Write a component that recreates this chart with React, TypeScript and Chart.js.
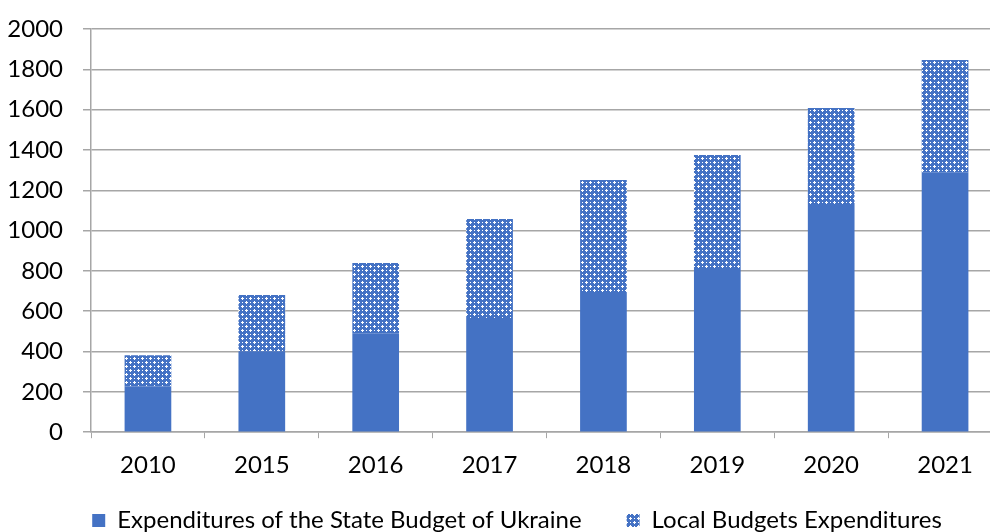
import React, { useEffect, useRef } from "react";
import { Chart, registerables } from "chart.js";
Chart.register(...registerables);

const years = ["2010", "2015", "2016", "2017", "2018", "2019", "2020", "2021"];
const stateBudget = [228, 402, 491, 566, 690, 814, 1127, 1290];
const localBudgets = [154, 278, 348, 491, 561, 561, 481, 556];
const yTicks = [0, 200, 400, 600, 800, 1000, 1200, 1400, 1600, 1800, 2000];

const BLUE = "#4472C4";
const FONT = "Lato";
const LEGEND_PAD = 45;
const LEGEND_FONT = 24;

function makePattern(ctx: CanvasRenderingContext2D): CanvasPattern | string {
  const c = document.createElement("canvas");
  c.width = 8;
  c.height = 8;
  const g = c.getContext("2d");
  if (!g) return BLUE;
  g.fillStyle = BLUE;
  g.fillRect(0, 0, 8, 8);
  g.fillStyle = "#ffffff";
  const white: [number, number][] = [
    [2, 1], [1, 2], [2, 2], [3, 2], [2, 3],
    [6, 5], [5, 6], [6, 6], [7, 6], [6, 7],
    [6, 2], [2, 6],
  ];
  white.forEach(([x, y]) => g.fillRect(x, y, 1, 1));
  return ctx.createPattern(c, "repeat") || BLUE;
}

const legendShift = {
  id: "legendShift",
  afterLayout(chart: any) {
    const lg = chart.legend;
    if (!lg) return;
    const h = lg.height;
    lg.left += 16;
    lg.right += 16;
    lg.top = 523 - LEGEND_PAD - (LEGEND_FONT * 1.2) / 2;
    lg.bottom = lg.top + h;
  },
};

export default function App() {
  const ref = useRef<HTMLCanvasElement | null>(null);
  useEffect(() => {
    document.body.style.margin = "0";
    const canvas = ref.current;
    if (!canvas) return;
    const ctx = canvas.getContext("2d")!;
    const pattern = makePattern(ctx);
    const chart = new Chart(canvas, {
      type: "bar",
      data: {
        labels: years,
        datasets: [
          {
            label: "Expenditures of the State Budget of Ukraine",
            data: stateBudget,
            backgroundColor: BLUE,
            borderWidth: 0,
            barPercentage: 0.41,
            categoryPercentage: 1,
          },
          {
            label: "Local Budgets Expenditures",
            data: localBudgets,
            backgroundColor: pattern as any,
            borderWidth: 0,
            barPercentage: 0.41,
            categoryPercentage: 1,
          },
        ],
      },
      plugins: [legendShift],
      options: {
        responsive: false,
        animation: false,
        layout: { padding: { top: 29, left: 0, right: 0, bottom: -40 } },
        plugins: {
          legend: {
            position: "bottom",
            labels: {
              boxWidth: 13,
              boxHeight: 13,
              padding: LEGEND_PAD,
              color: "#000",
              font: { family: FONT, size: LEGEND_FONT },
            },
          },
          tooltip: { enabled: false },
        },
        scales: {
          x: {
            stacked: true,
            grid: {
              display: true,
              drawOnChartArea: false,
              drawTicks: true,
              tickLength: 6,
              color: "#a6a6a6",
              offset: true,
            },
            border: { color: "#a6a6a6", width: 1.5 },
            ticks: {
              color: "#000",
              padding: 13,
              font: { family: FONT, size: 24 },
            },
          },
          y: {
            stacked: true,
            min: 0,
            max: 2000,
            afterBuildTicks: (scale: any) => {
              scale.ticks = yTicks.map((v) => ({ value: v }));
            },
            afterFit: (scale: any) => {
              scale.width = 91;
              scale.paddingTop = 0;
              scale.paddingBottom = 0;
            },
            grid: {
              color: "#a6a6a6",
              lineWidth: 1.5,
              tickLength: 8,
            },
            border: { color: "#a6a6a6", width: 1.5 },
            ticks: {
              color: "#000",
              padding: 20,
              font: { family: FONT, size: 24 },
              callback: (v: any) => String(v),
            },
          },
        },
      },
    });
    return () => chart.destroy();
  }, []);
  return (
    <div style={{ width: 990, height: 532, overflow: "hidden", position: "relative", background: "#fff" }}>
      <canvas ref={ref} width={1002} height={532} style={{ display: "block" }} />
    </div>
  );
}
